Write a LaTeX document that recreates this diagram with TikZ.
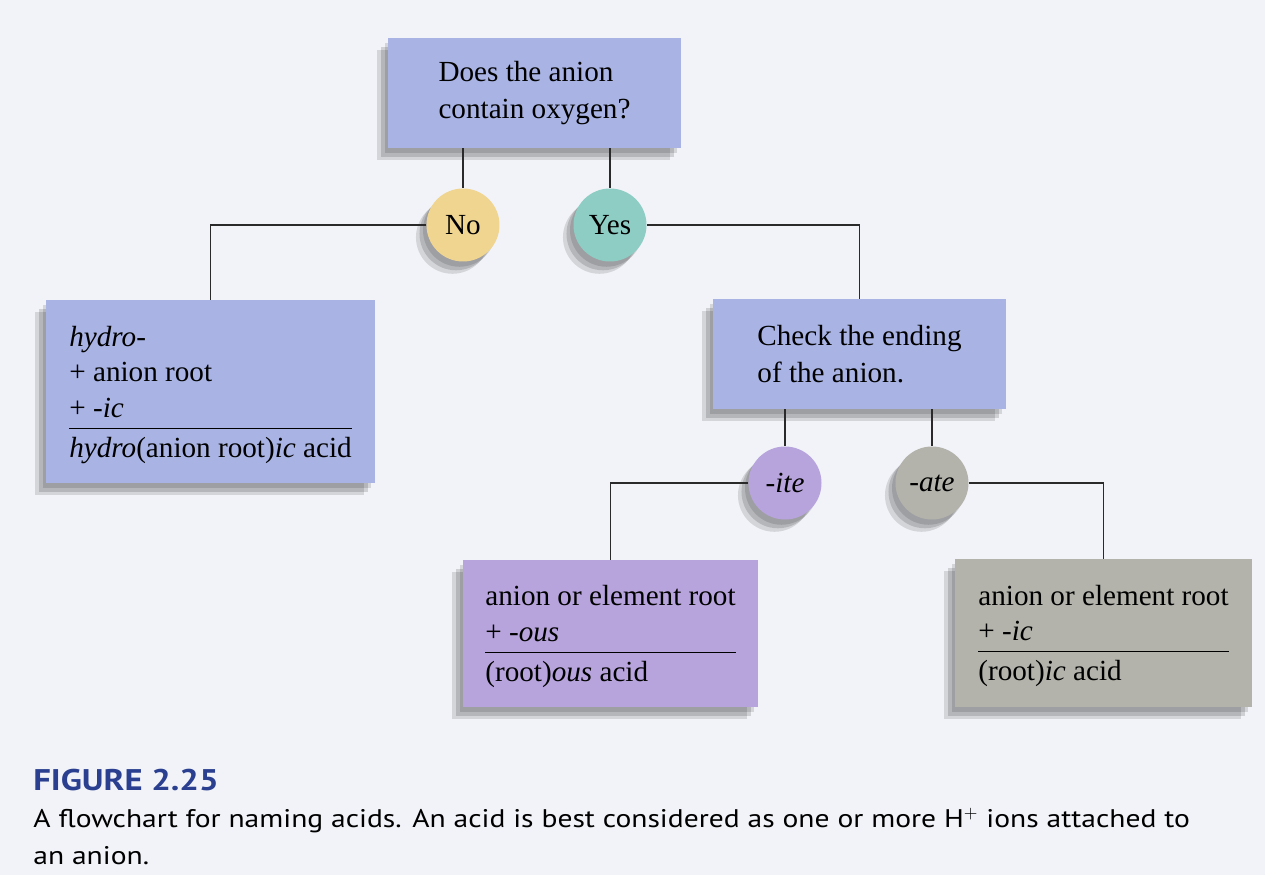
\documentclass[tikz,border=0pt]{standalone}
\usepackage{fontspec}
\setmainfont{Liberation Serif}
\newfontfamily\capfont[FakeStretch=1.16]{PT Sans}
\usetikzlibrary{shadows}

\definecolor{pagebg}{HTML}{F1F3F8}
\definecolor{qblue}{HTML}{A9B4E5}
\definecolor{noyellow}{HTML}{F0D590}
\definecolor{yesteal}{HTML}{8DCDC4}
\definecolor{itepurple}{HTML}{B8A4DD}
\definecolor{ategray}{HTML}{B3B3AC}
\definecolor{figblue}{HTML}{2B3F90}
\definecolor{linegray}{HTML}{2A2A2A}

\begin{document}
\begin{tikzpicture}[x=0.02cm,y=-0.02cm,
  shade box/.style={
    drop shadow={shadow xshift=-2pt,shadow yshift=-3pt,fill=black,opacity=0.12},
    drop shadow={shadow xshift=-4pt,shadow yshift=-5pt,fill=black,opacity=0.14},
    drop shadow={shadow xshift=-6pt,shadow yshift=-7pt,fill=black,opacity=0.12}},
  askbox/.style={shade box,fill=qblue,minimum width=5.86cm,minimum height=2.2cm,align=left,
    font=\fontsize{16.6}{21.5}\selectfont},
  rulebox/.style={shade box,minimum width=#1,align=left,inner sep=0pt,
    font=\fontsize{16.6}{20}\selectfont},
  answer/.style={shade box,circle,fill=#1,minimum size=1.46cm,inner sep=0pt,
    font=\fontsize{16.6}{20}\selectfont},
  link/.style={draw=linegray,line width=0.8pt}]

\useasboundingbox (0,0) rectangle (1265,875);
\fill[pagebg] (0,0) rectangle (1265,875);

% question boxes
\node [askbox] (oxygen) at (534.5, 93) {Does the anion\\ contain oxygen?};
\node [askbox] (ending) at (859.5,354) {Check the ending\\ of the anion.};

% answers
\node [answer=noyellow]  (no)  at (463,225) {No};
\node [answer=yesteal]   (yes) at (610,225) {Yes};
\node [answer=itepurple] (ite) at (785,483) {\textit{-ite}};
\node [answer=ategray]   (ate) at (932,483) {\textit{-ate}};

% naming rules
\node [rulebox=6.58cm,fill=qblue,minimum height=3.66cm] (hydro) at (210.5,391.5)
  {\begin{tabular}{@{}l@{}}
   \rule{0pt}{18pt}\textit{hydro-}\\
   + anion root\\
   + \textit{-ic}\\ \hline
   \rule{0pt}{16.5pt}\textit{hydro}(anion root)\textit{ic} acid
   \end{tabular}};
\node [rulebox=5.9cm,fill=itepurple,minimum height=2.94cm] (ous) at (610.5,633.5)
  {\begin{tabular}{@{}l@{}}
   \rule{0pt}{17.5pt}anion or element root\\
   + \textit{-ous}\\ \hline
   \rule{0pt}{16.5pt}(root)\textit{ous} acid
   \end{tabular}};
\node [rulebox=5.94cm,fill=ategray,minimum height=2.96cm] (ic) at (1103.5,633)
  {\begin{tabular}{@{}l@{}}
   \rule{0pt}{17.5pt}anion or element root\\
   + \textit{-ic}\\ \hline
   \rule{0pt}{16.5pt}(root)\textit{ic} acid
   \end{tabular}};

% connectors
\draw [link] (no |- oxygen.south) -- (no);
\draw [link] (yes |- oxygen.south) -- (yes);
\draw [link] (no) -| (hydro);
\draw [link] (yes) -| (ending);
\draw [link] (ite |- ending.south) -- (ite);
\draw [link] (ate |- ending.south) -- (ate);
\draw [link] (ite) -| (ous);
\draw [link] (ate) -| (ic);

% caption
\node [anchor=north west,align=left,inner sep=0pt,font=\capfont\fontsize{14.5}{21}\selectfont]
  (caption) at (33,769)
  {{\bfseries\color{figblue}\fontsize{17}{21}\selectfont FIGURE 2.25}\\
   A flowchart for naming acids. An acid is best considered as one or more H$^{+}$ ions attached to\\
   an anion.};
\end{tikzpicture}
\end{document}
